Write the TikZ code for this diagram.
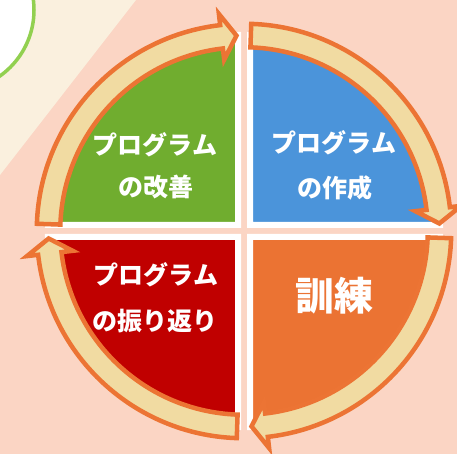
\documentclass[tikz,border=0pt]{standalone}
\usepackage{fontspec}
\newfontfamily\jp{Noto Sans CJK JP}
\definecolor{bgc}{HTML}{FBD5C4}
\definecolor{creamc}{HTML}{FAF0DE}
\definecolor{circc}{HTML}{92D050}
\definecolor{greenc}{HTML}{70AD2F}
\definecolor{bluec}{HTML}{4B94DA}
\definecolor{redc}{HTML}{C00000}
\definecolor{orangec}{HTML}{EB7333}
\definecolor{arrfill}{HTML}{F1DBA2}
\definecolor{arrline}{HTML}{EC7434}
\tikzset{
  pie/.style={draw=white, line width=6pt, line join=miter},
  arr/.style={draw=arrline, fill=arrfill, line width=4.5pt, line join=miter},
  lbl/.style={text=white, font=\jp\bfseries\fontsize{25}{25}\selectfont, inner sep=0pt},
  biglbl/.style={text=white, font=\jp\bfseries\fontsize{39}{39}\selectfont, inner sep=0pt}
}
\begin{document}
\begin{tikzpicture}[x=1pt,y=1pt]
\useasboundingbox (0,0) rectangle (457,454);
\clip (0,0) rectangle (457,454);
\fill[bgc] (0,0) rectangle (457,454);
\fill[creamc] (0,454) -- (136,454) -- (0,279) -- cycle;
\draw[circc, line width=3.5pt, fill=white] (-47,444) circle (81);
\begin{scope}[shift={(244,223)}]
  \draw[pie, fill=greenc] (-6,6) -- ++(0,190) arc[start angle=90, end angle=180, radius=190] -- cycle;
  \draw[pie, fill=bluec] (6,6) -- ++(190,0) arc[start angle=0, end angle=90, radius=190] -- cycle;
  \draw[pie, fill=orangec] (6,-6) -- ++(0,-190) arc[start angle=-90, end angle=0, radius=190] -- cycle;
  \draw[pie, fill=redc] (-6,-6) -- ++(-190,0) arc[start angle=180, end angle=270, radius=190] -- cycle;
  \foreach \q in {0,90,180,270} {
    \pgfmathsetmacro{\as}{\q+88}
    \pgfmathsetmacro{\ah}{\q+6.6}
    \pgfmathsetmacro{\at}{\q+2.2}
    \draw[arr] (\as:207.25) arc[start angle=\as, end angle=\ah, radius=207.25]
      -- (\ah:218.5) -- (\at:195.5) -- (\ah:172.5) -- (\ah:183.75)
      arc[start angle=\ah, end angle=\as, radius=183.75] -- cycle;
  }
\end{scope}
\node[lbl] (g1) at (155,309) {プログラム};
\node[lbl] (g2) at (156,267) {の改善};
\node[lbl] (b1) at (334,311) {プログラム};
\node[lbl] (b2) at (335,266) {の作成};
\node[lbl] (r1) at (156,179) {プログラム};
\node[lbl] (r2) at (155,133) {の振り返り};
\node[biglbl] (o1) at (334,158) {訓練};
\end{tikzpicture}
\end{document}
